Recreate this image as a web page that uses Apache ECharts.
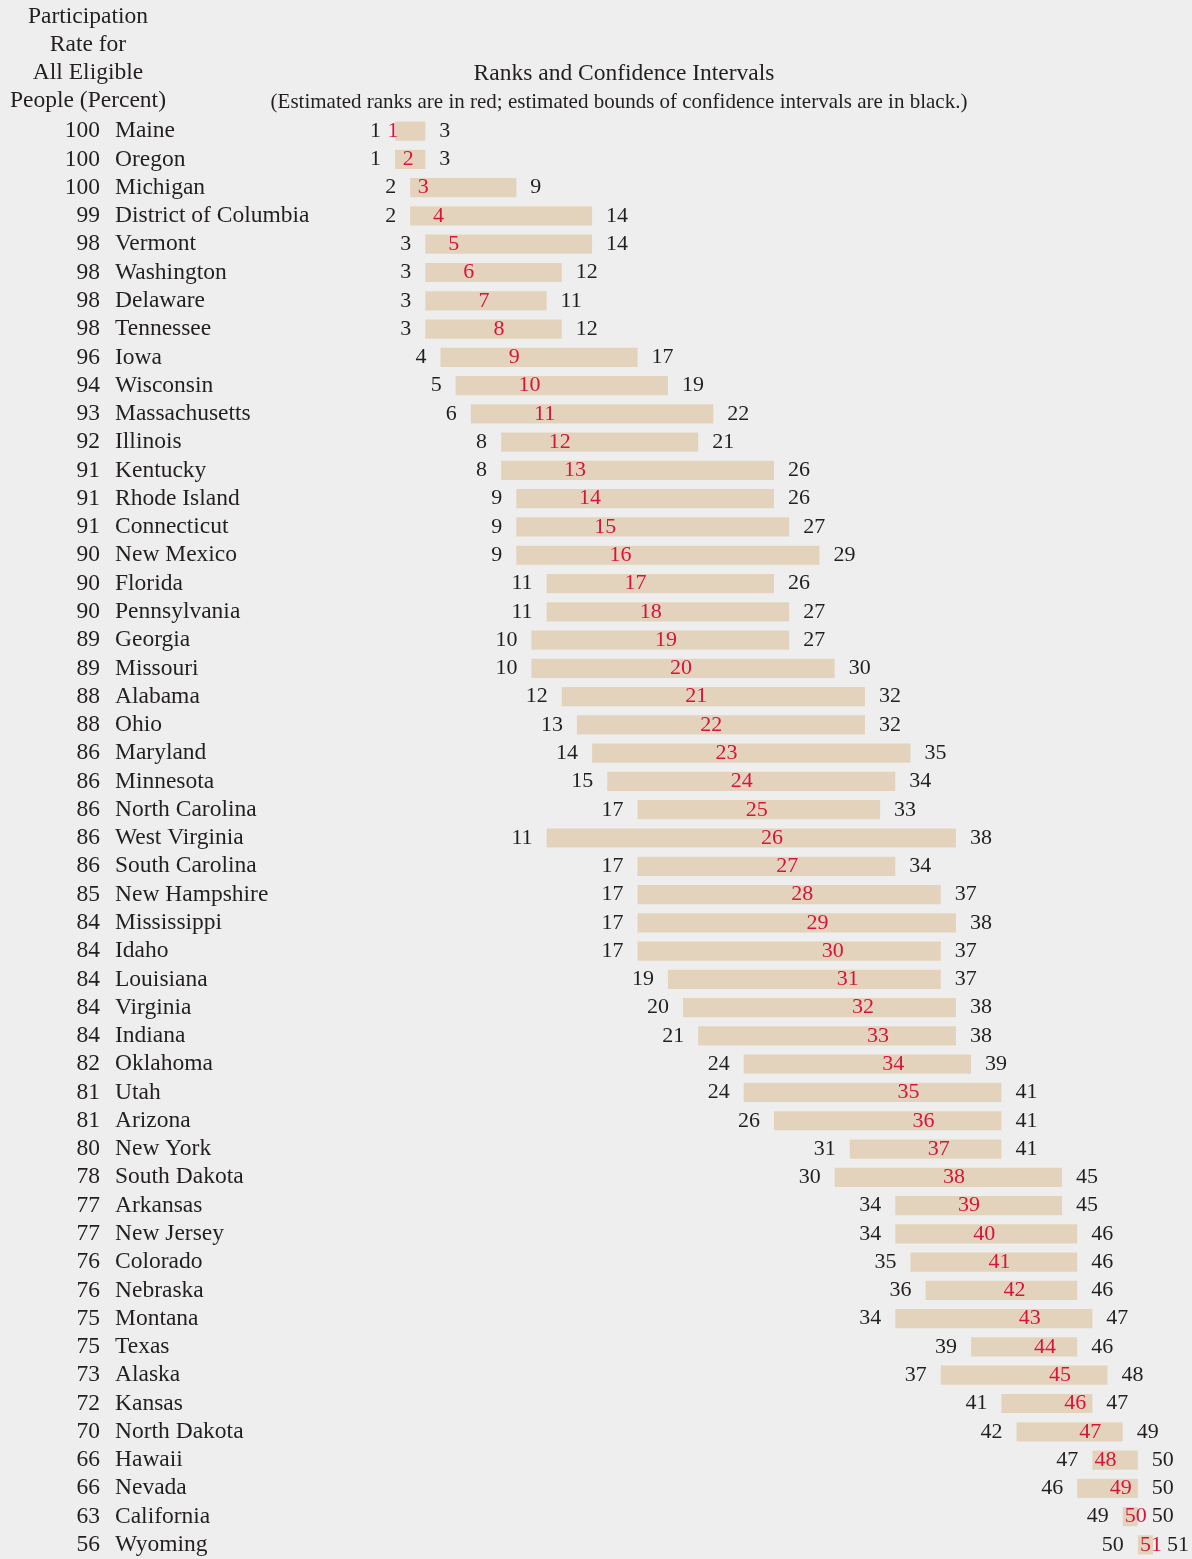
<!DOCTYPE html>
<html><head><meta charset="utf-8">
<script src="https://cdn.jsdelivr.net/npm/echarts@6/dist/echarts.min.js"></script>
<style>html,body{margin:0;padding:0;background:#eeeeee;}#c{width:1192px;height:1559px;}</style>
</head><body><div id="c"></div>
<script>
const states = ["Maine","Oregon","Michigan","District of Columbia","Vermont","Washington","Delaware","Tennessee","Iowa","Wisconsin","Massachusetts","Illinois","Kentucky","Rhode Island","Connecticut","New Mexico","Florida","Pennsylvania","Georgia","Missouri","Alabama","Ohio","Maryland","Minnesota","North Carolina","West Virginia","South Carolina","New Hampshire","Mississippi","Idaho","Louisiana","Virginia","Indiana","Oklahoma","Utah","Arizona","New York","South Dakota","Arkansas","New Jersey","Colorado","Nebraska","Montana","Texas","Alaska","Kansas","North Dakota","Hawaii","Nevada","California","Wyoming"];
const pct = [100,100,100,99,98,98,98,98,96,94,93,92,91,91,91,90,90,90,89,89,88,88,86,86,86,86,86,85,84,84,84,84,84,82,81,81,80,78,77,77,76,76,75,75,73,72,70,66,66,63,56];
const lower = [1,1,2,2,3,3,3,3,4,5,6,8,8,9,9,9,11,11,10,10,12,13,14,15,17,11,17,17,17,17,19,20,21,24,24,26,31,30,34,34,35,36,34,39,37,41,42,47,46,49,50];
const rank = [1,2,3,4,5,6,7,8,9,10,11,12,13,14,15,16,17,18,19,20,21,22,23,24,25,26,27,28,29,30,31,32,33,34,35,36,37,38,39,40,41,42,43,44,45,46,47,48,49,50,51];
const upper = [3,3,9,14,14,12,11,12,17,19,22,21,26,26,27,29,26,27,27,30,32,32,35,34,33,38,34,37,38,37,37,38,38,39,41,41,41,45,45,46,46,46,47,46,48,47,49,50,50,50,51];

const SERIF = '"Liberation Serif","Times New Roman",serif';
const INK = '#231f20';
const RED = '#d7143c';
const BAR = '#e3d3bc';

const seriesData = states.map((s, i) => [i, lower[i], rank[i], upper[i]]);

const chart = echarts.init(document.getElementById('c'), null, {renderer: 'canvas'});
chart.setOption({
  backgroundColor: '#eeeeee',
  animation: false,
  grid: {left: 395, right: 39, top: 117, height: 1445, containLabel: false},
  xAxis: {type: 'value', min: 1, max: 51, show: false},
  yAxis: [
    {type: 'category', data: states, inverse: true, position: 'left',
     axisLine: {show: false}, axisTick: {show: false}, splitLine: {show: false},
     axisLabel: {interval: 0, align: 'left', margin: 280, color: INK, fontFamily: SERIF, fontSize: 23.5}},
    {type: 'category', data: states, inverse: true, position: 'left',
     axisLine: {show: false}, axisTick: {show: false}, splitLine: {show: false},
     axisLabel: {interval: 0, align: 'right', margin: 295, color: INK, fontFamily: SERIF, fontSize: 23.5,
       formatter: (v, i) => String(pct[i])}}
  ],
  graphic: [
    {type: 'text', x: 88, y: 3, style: {text: 'Participation\nRate for\nAll Eligible\nPeople (Percent)', fill: INK,
      font: '23.5px ' + SERIF, align: 'center', textAlign: 'center', lineHeight: 28}},
    {type: 'text', x: 624, y: 74, style: {text: 'Ranks and Confidence Intervals', fill: INK,
      font: '23.5px ' + SERIF, align: 'center', textAlign: 'center', verticalAlign: 'middle', textVerticalAlign: 'middle'}},
    {type: 'text', x: 619, y: 102, style: {text: '(Estimated ranks are in red; estimated bounds of confidence intervals are in black.)', fill: INK,
      font: '21px ' + SERIF, align: 'center', textAlign: 'center', verticalAlign: 'middle', textVerticalAlign: 'middle'}}
  ],
  series: [{
    type: 'custom',
    xAxisIndex: 0, yAxisIndex: 0,
    clip: false,
    encode: {x: [1, 2, 3], y: 0},
    data: seriesData,
    renderItem: function (params, api) {
      const idx = api.value(0);
      const L = api.value(1), R = api.value(2), U = api.value(3);
      const pL = api.coord([L, idx]);
      const pU = api.coord([U, idx]);
      const pR = api.coord([R, idx]);
      const h = api.size([0, 1])[1] * 0.68;
      const y = pL[1];
      const font = '22px ' + SERIF;
      return {
        type: 'group',
        children: [
          {type: 'rect', shape: {x: pL[0], y: y - h / 2, width: pU[0] - pL[0], height: h}, style: {fill: BAR}},
          {type: 'text', x: pL[0] - 14, y: y, style: {text: String(L), fill: INK, font: font,
            align: 'right', textAlign: 'right', verticalAlign: 'middle', textVerticalAlign: 'middle'}},
          {type: 'text', x: pU[0] + 14, y: y, style: {text: String(U), fill: INK, font: font,
            align: 'left', textAlign: 'left', verticalAlign: 'middle', textVerticalAlign: 'middle'}},
          {type: 'text', x: pR[0] - 2, y: y, z2: 10, style: {text: String(R), fill: RED, font: font,
            align: 'center', textAlign: 'center', verticalAlign: 'middle', textVerticalAlign: 'middle'}}
        ]
      };
    }
  }]
});
</script>
</body></html>
